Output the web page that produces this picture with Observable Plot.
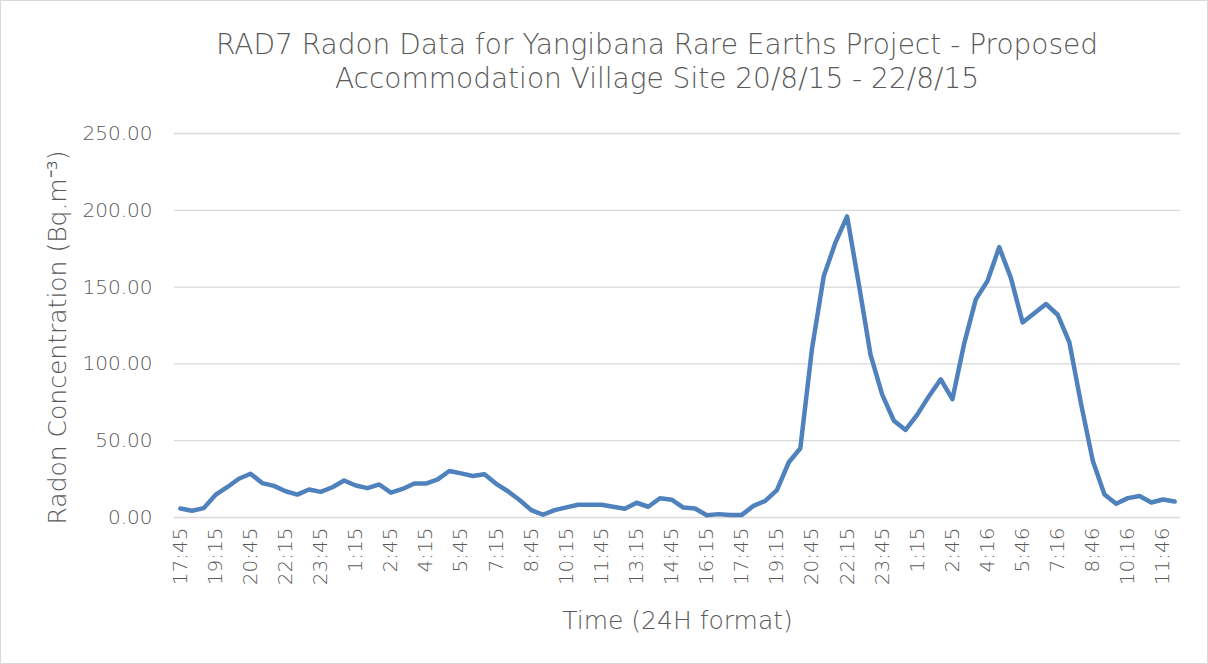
<!DOCTYPE html>
<html>
<head>
<meta charset="utf-8">
<script src="https://cdn.jsdelivr.net/npm/d3@7"></script>
<script src="https://cdn.jsdelivr.net/npm/@observablehq/plot@0.6"></script>
<style>
  html, body { margin: 0; padding: 0; background: #fff; }
  #wrap { position: relative; width: 1208px; height: 664px; overflow: hidden; font-family: "DejaVu Sans", sans-serif; color: #595959; }
  #frame { position: absolute; left: 0; top: 0; width: 1208px; height: 664px; box-sizing: border-box; border: 1px solid #d9d9d9; pointer-events: none; }
  #title { box-sizing: border-box; height: 115px; padding-top: 28px; padding-left: 106px; text-align: center; font-size: 28px; font-weight: 200; line-height: 34px; white-space: nowrap; }
  svg { display: block; overflow: visible; }
</style>
</head>
<body>
<div id="wrap">
  <div id="title">RAD7 Radon Data for Yangibana Rare Earths Project - Proposed<br>Accommodation Village Site 20/8/15 - 22/8/15</div>
  <div id="chart"></div>
  <div id="frame"></div>
</div>
<script>
const timeLabels = [
  "17:45","18:15","18:45","19:15","19:45","20:15","20:45","21:15","21:45","22:15",
  "22:45","23:15","23:45","0:15","0:45","1:15","1:45","2:15","2:45","3:15",
  "3:45","4:15","4:45","5:15","5:45","6:15","6:45","7:15","7:45","8:15",
  "8:45","9:15","9:45","10:15","10:45","11:15","11:45","12:15","12:45","13:15",
  "13:45","14:15","14:45","15:15","15:45","16:15","16:45","17:15","17:45","18:15",
  "18:45","19:15","19:45","20:15","20:45","21:15","21:45","22:15","22:45","23:15",
  "23:45","0:15","0:45","1:15","1:45","2:15","2:45","3:16","3:46","4:16",
  "4:46","5:16","5:46","6:16","6:46","7:16","7:46","8:16","8:46","9:16",
  "9:46","10:16","10:46","11:16","11:46","12:16"
];
const radon = [
  5.9, 4.4, 6.1, 14.7, 19.7, 25.2, 28.5, 22.4, 20.6, 17.1,
  14.9, 18.2, 16.7, 19.7, 24.1, 20.8, 19.1, 21.5, 16.2, 18.6,
  22.1, 22.1, 24.8, 30.3, 28.7, 27.0, 28.1, 21.9, 17.1, 11.4,
  4.8, 1.8, 4.8, 6.6, 8.3, 8.3, 8.3, 7.0, 5.7, 9.6,
  7.0, 12.5, 11.6, 6.5, 5.9, 1.5, 2.2, 1.7, 1.7, 7.6,
  10.8, 17.8, 35.8, 45.1, 110, 157, 179, 196, 152, 106,
  80, 63, 57, 67, 79, 90, 77, 113, 142, 154,
  176, 156, 127, 133, 139, 132, 114, 74, 37, 15,
  9, 12.6, 14, 9.8, 11.7, 10.4
];
const yTicks = [0, 50, 100, 150, 200, 250];
const titleY = "Radon Concentration (Bq.m⁻³)";
const titleX = "Time (24H format)";

const data = radon.map((v, i) => ({i, t: timeLabels[i], v}));
const idx = timeLabels.map((_, i) => i);
const xTicks = idx.filter(i => i % 3 === 0);

const chart = Plot.plot({
  width: 1208,
  height: 549,
  marginTop: 18,
  marginBottom: 147,
  marginLeft: 174,
  marginRight: 28,
  style: { fontFamily: "DejaVu Sans, sans-serif", color: "#595959", background: "transparent", fontWeight: 200, overflow: "visible" },
  x: { type: "point", domain: idx, padding: 0.5 },
  y: { domain: [0, 250] },
  marks: [
    Plot.gridY(yTicks, { stroke: "#d9d9d9", strokeOpacity: 1, strokeWidth: 1.3 }),
    Plot.axisY(yTicks, { tickSize: 0, tickPadding: 22, tickFormat: d3.format(".2f"), fontSize: 20, label: null }),
    Plot.axisX(xTicks, { tickSize: 0, tickPadding: 10, tickRotate: -90, tickFormat: i => timeLabels[i], fontSize: 20, label: null }),
    Plot.line(data, { x: "i", y: "v", stroke: "#4f81bd", strokeWidth: 4.5, strokeLinejoin: "round", strokeLinecap: "round" }),
    Plot.text([titleX], { frameAnchor: "bottom", textAnchor: "middle", lineAnchor: "middle", dy: 103, fontSize: 25, fill: "#595959" }),
    Plot.text([titleY], { frameAnchor: "left", textAnchor: "middle", lineAnchor: "middle", rotate: -90, dx: -117, dy: 12, fontSize: 25, fill: "#595959" })
  ]
});
document.getElementById("chart").appendChild(chart);
</script>
</body>
</html>
